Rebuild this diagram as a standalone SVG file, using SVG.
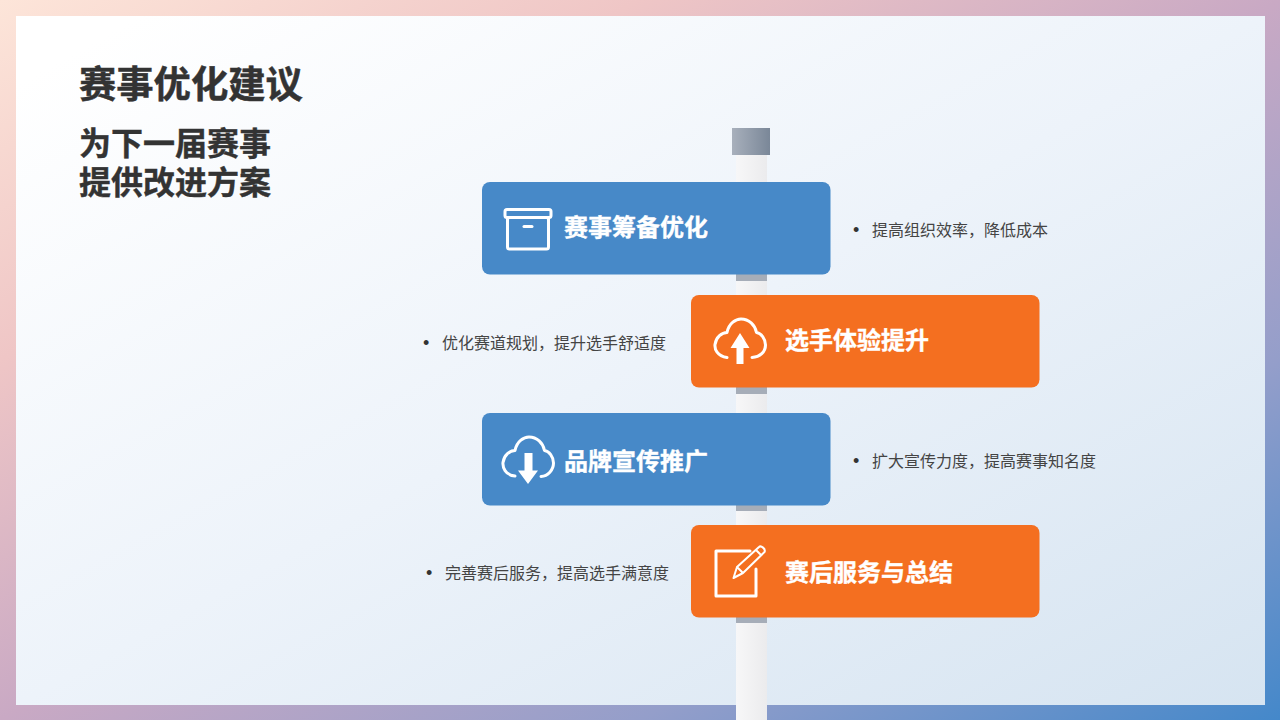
<svg xmlns="http://www.w3.org/2000/svg" width="1280" height="720" viewBox="0 0 1280 720">
<defs>
<linearGradient id="frame" x1="0" y1="0" x2="1" y2="1">
<stop offset="0" stop-color="#fde5d9"/><stop offset="0.25" stop-color="#efc6c6"/><stop offset="0.5" stop-color="#c9a9c4"/><stop offset="0.75" stop-color="#949eca"/><stop offset="1" stop-color="#4488ca"/>
</linearGradient>
<linearGradient id="panel" x1="0" y1="0" x2="1" y2="1">
<stop offset="0.05" stop-color="#ffffff"/><stop offset="0.5" stop-color="#edf3fa"/><stop offset="1" stop-color="#d6e4f1"/>
</linearGradient>
<linearGradient id="pole" x1="0" y1="0" x2="1" y2="0">
<stop offset="0" stop-color="#f7f7f8"/><stop offset="1" stop-color="#ebebed"/>
</linearGradient>
<linearGradient id="cap" x1="0" y1="0" x2="1" y2="0">
<stop offset="0" stop-color="#a8b0bc"/><stop offset="1" stop-color="#7a8798"/>
</linearGradient>
<style>
.t{font-family:"Noto Sans CJK SC",sans-serif}
.title{font-weight:700;font-size:37.300px;fill:#333333;stroke:#333333;stroke-width:.5px}
.sub{font-weight:700;font-size:32px;fill:#333333;stroke:#333333;stroke-width:.4px}
.lbl{font-weight:700;font-size:24px;fill:#ffffff;stroke:#ffffff;stroke-width:.35px}
.note{font-size:16px;fill:#444444}
.dot{font-family:"Liberation Sans",sans-serif;font-size:18px;fill:#333333}
.blue{fill:#4789c8}
.orange{fill:#f46f20}
.band{fill:#a6adb8}
.ln{fill:none;stroke:#ffffff;stroke-width:3;stroke-linejoin:round;stroke-linecap:round}
.wh{fill:#ffffff}
</style>
</defs>
<rect width="1280" height="720" fill="url(#frame)"/>
<rect x="16" y="16" width="1249" height="689" fill="url(#panel)"/>
<text class="t title" x="79" y="98">赛事优化建议</text>
<text class="t sub"><tspan x="79" y="155">为下一届赛事</tspan><tspan x="79" y="194">提供改进方案</tspan></text>
<g id="post">
<rect x="736" y="155" width="31" height="565" fill="url(#pole)"/>
<rect x="732" y="128" width="38" height="27" fill="url(#cap)"/>
<rect class="band" x="736" y="274" width="31" height="7"/>
<rect class="band" x="736" y="387" width="31" height="7"/>
<rect class="band" x="736" y="505" width="31" height="6"/>
<rect class="band" x="736" y="617" width="31" height="6"/>
</g>
<g id="node-1">
<rect class="blue" x="482" y="182" width="348.500" height="92.500" rx="8"/>
<rect class="ln" x="505" y="209.500" width="46" height="8" rx="2"/>
<rect class="ln" x="507.500" y="217.500" width="41" height="31.500" rx="2"/>
<path class="ln" d="M524 226.500h8"/>
<text class="t lbl" x="564" y="236">赛事筹备优化</text>
<text class="dot" x="853" y="236">•</text>
<text class="t note" x="872" y="236">提高组织效率，降低成本</text>
</g>
<g id="node-2">
<rect class="orange" x="691" y="295" width="348.500" height="92.500" rx="8"/>
<path class="ln" d="M727 357.500C717 356 714.500 349 715 344.500C716 337 722 332.500 727 332.500C729 323 736 319 741 319C749 319 755 325 756.500 332.500C761 333 765.500 339 765.500 345C765.500 352 760 357 752 357.500"/>
<path class="wh" d="M740 333L749.500 348H743.500V364H736.500V348H730.500Z"/>
<text class="t lbl" x="785" y="349">选手体验提升</text>
<text class="dot" x="423" y="349">•</text>
<text class="t note" x="442" y="349">优化赛道规划，提升选手舒适度</text>
</g>
<g id="node-3">
<rect class="blue" x="482" y="413" width="348.500" height="92.500" rx="8"/>
<path class="ln" d="M515 476C505 475 502.500 467 503 462.500C504 455 510 450.500 515 450.500C517 441 524 437 529 437C537 437 543 443 544.500 450.500C549 451 553.500 457 553.500 463C553.500 470 548 476 541 476.500"/>
<path class="wh" d="M524.500 453H532.500V470.500H538L528 484L518 470.500H524.500Z"/>
<text class="t lbl" x="564" y="470">品牌宣传推广</text>
<text class="dot" x="853" y="467">•</text>
<text class="t note" x="872" y="467">扩大宣传力度，提高赛事知名度</text>
</g>
<g id="node-4">
<rect class="orange" x="691" y="525" width="348.500" height="92.500" rx="8"/>
<path class="ln" d="M750 551H716V596H756V569"/>
<path class="ln" style="stroke-width:2" d="M733.500 578L737 567L759 547C761 545 766 549 764.500 552L743 573L733.500 578ZM737 567L743 573M756 550L761 555"/>
<text class="t lbl" x="785" y="581">赛后服务与总结</text>
<text class="dot" x="426" y="579">•</text>
<text class="t note" x="445" y="579">完善赛后服务，提高选手满意度</text>
</g>
</svg>
